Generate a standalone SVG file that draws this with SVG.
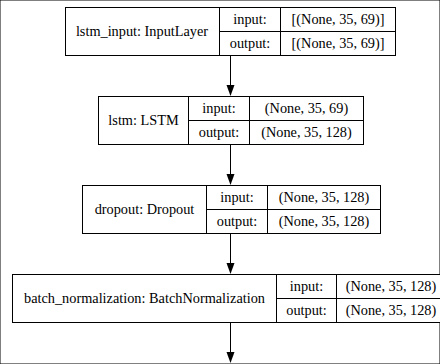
<svg xmlns="http://www.w3.org/2000/svg" width="440" height="364" viewBox="0 0 440 364">
<defs>
<style>
rect,line.c{fill:none;stroke:#000;stroke-width:1}
rect.bg{fill:#fff}
text{fill:#000;text-anchor:middle}
</style>
</defs>
<rect width="440" height="364" fill="#fff" stroke="none"/>
<g id="connectors">
<line class="c" x1="230.5" y1="55.5" x2="230.5" y2="86"/>
<path d="M226.5,85 L234.5,85 L230.5,96 Z"/>
<line class="c" x1="230.5" y1="145" x2="230.5" y2="175"/>
<path d="M226.5,174 L234.5,174 L230.5,185 Z"/>
<line class="c" x1="230.5" y1="234" x2="230.5" y2="264"/>
<path d="M226.5,263 L234.5,263 L230.5,274 Z"/>
<line class="c" x1="230.5" y1="323" x2="230.5" y2="353"/>
<path d="M226.5,352 L234.5,352 L230.5,363 Z"/>
</g>
<g font-family="Liberation Serif, serif" font-size="14.3">
<g id="lstm_input">
<rect class="bg" x="65.5" y="7.5" width="330" height="48"/>
<line class="c" x1="219.5" y1="7.5" x2="219.5" y2="55.5"/>
<line class="c" x1="280.5" y1="7.5" x2="280.5" y2="55.5"/>
<line class="c" x1="219.5" y1="31.5" x2="395.5" y2="31.5"/>
<text x="142" y="36">lstm_input: InputLayer</text>
<text x="250" y="24">input:</text>
<text x="250" y="48">output:</text>
<text x="338" y="24">[(None, 35, 69)]</text>
<text x="338" y="48">[(None, 35, 69)]</text>
</g>
<g id="lstm">
<rect class="bg" x="98.5" y="96.5" width="265" height="48"/>
<line class="c" x1="188.5" y1="96.5" x2="188.5" y2="144.5"/>
<line class="c" x1="249.5" y1="96.5" x2="249.5" y2="144.5"/>
<line class="c" x1="188.5" y1="120.5" x2="363.5" y2="120.5"/>
<text x="143.5" y="125">lstm: LSTM</text>
<text x="219" y="113">input:</text>
<text x="219" y="137">output:</text>
<text x="306.5" y="113">(None, 35, 69)</text>
<text x="306.5" y="137">(None, 35, 128)</text>
</g>
<g id="dropout">
<rect class="bg" x="82.5" y="185.5" width="298" height="48"/>
<line class="c" x1="206.5" y1="185.5" x2="206.5" y2="233.5"/>
<line class="c" x1="267.5" y1="185.5" x2="267.5" y2="233.5"/>
<line class="c" x1="206.5" y1="209.5" x2="380.5" y2="209.5"/>
<text x="144.5" y="214">dropout: Dropout</text>
<text x="237" y="202">input:</text>
<text x="237" y="226">output:</text>
<text x="324" y="202">(None, 35, 128)</text>
<text x="324" y="226">(None, 35, 128)</text>
</g>
<g id="batch_normalization">
<rect class="bg" x="12.5" y="274.5" width="436" height="48"/>
<line class="c" x1="276.5" y1="274.5" x2="276.5" y2="322.5"/>
<line class="c" x1="336.5" y1="274.5" x2="336.5" y2="322.5"/>
<line class="c" x1="276.5" y1="298.5" x2="448.5" y2="298.5"/>
<text x="144.5" y="303">batch_normalization: BatchNormalization</text>
<text x="306.5" y="291">input:</text>
<text x="306.5" y="315">output:</text>
<text x="391" y="291">(None, 35, 128)</text>
<text x="391" y="315">(None, 35, 128)</text>
</g>
</g>
</svg>
